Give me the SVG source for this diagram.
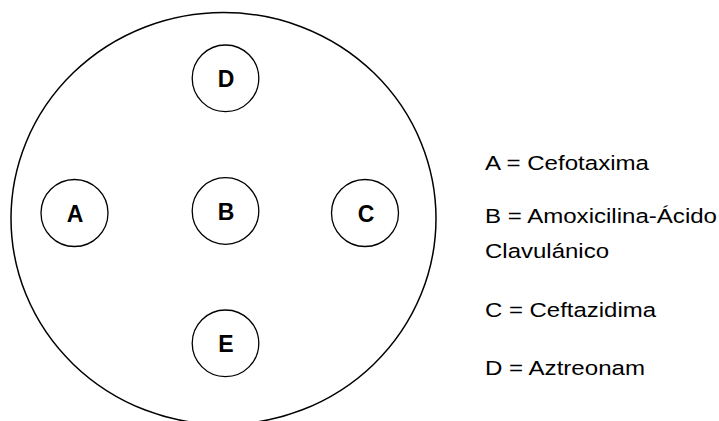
<svg xmlns="http://www.w3.org/2000/svg" width="719" height="421" viewBox="0 0 719 421">
<style>
.plate{fill:none;stroke:#000;stroke-width:1.5}
.disk{fill:#fff;stroke:#000;stroke-width:1.3}
.lbl{font-family:"Liberation Sans",Arial,sans-serif;font-weight:bold;font-size:23px;fill:#000;text-anchor:middle}
.leg{font-family:"Liberation Sans",Arial,sans-serif;font-size:20.5px;fill:#000}
</style>
<rect width="719" height="421" fill="#fff"/>
<g id="plate"><ellipse class="plate" cx="223.5" cy="218.5" rx="212.5" ry="206"/></g>
<g id="D"><circle class="disk" cx="225.5" cy="78.3" r="33.3"/><text class="lbl" x="226" y="86.5">D</text></g>
<g id="A"><circle class="disk" cx="74.5" cy="213" r="33.5"/><text class="lbl" x="75" y="221.5">A</text></g>
<g id="B"><circle class="disk" cx="225.5" cy="211" r="33.3"/><text class="lbl" x="226" y="219.5">B</text></g>
<g id="C"><circle class="disk" cx="365" cy="213" r="33.5"/><text class="lbl" x="366" y="221.5">C</text></g>
<g id="E"><circle class="disk" cx="225.5" cy="343.3" r="33.3"/><text class="lbl" x="226" y="351.5">E</text></g>
<g id="legend">
<text class="leg" x="485" y="170" textLength="164" lengthAdjust="spacingAndGlyphs">A = Cefotaxima</text>
<text class="leg" x="485" y="223" textLength="232" lengthAdjust="spacingAndGlyphs">B = Amoxicilina-Ácido</text>
<text class="leg" x="485" y="258" textLength="124" lengthAdjust="spacingAndGlyphs">Clavulánico</text>
<text class="leg" x="485" y="317" textLength="171" lengthAdjust="spacingAndGlyphs">C = Ceftazidima</text>
<text class="leg" x="485" y="375" textLength="160" lengthAdjust="spacingAndGlyphs">D = Aztreonam</text>
</g>
</svg>
